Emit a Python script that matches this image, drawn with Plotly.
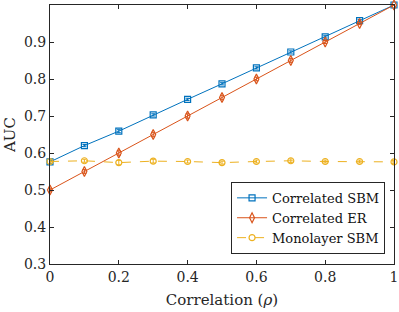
import plotly.graph_objects as go

rho = [0, 0.1, 0.2, 0.3, 0.4, 0.5, 0.6, 0.7, 0.8, 0.9, 1.0]
auc_sbm = [0.576, 0.620, 0.659, 0.703, 0.745, 0.787, 0.830, 0.873, 0.914, 0.958, 1.0]
err_sbm = [0.004, 0.003, 0.004, 0.003, 0.003, 0.003, 0.003, 0.003, 0.003, 0.003, 0.001]
auc_er = [0.500, 0.550, 0.600, 0.650, 0.700, 0.750, 0.800, 0.850, 0.900, 0.950, 1.0]
err_er = [0.005, 0.005, 0.006, 0.006, 0.006, 0.006, 0.005, 0.005, 0.004, 0.003, 0.001]
auc_mono = [0.577, 0.579, 0.574, 0.578, 0.577, 0.574, 0.577, 0.579, 0.577, 0.577, 0.576]
err_mono = [0.004, 0.004, 0.006, 0.005, 0.004, 0.004, 0.004, 0.005, 0.004, 0.004, 0.004]

names = ["Correlated SBM", "Correlated ER", "Monolayer SBM"]
colors = ["#0072BD", "#D95319", "#EDB120"]

FONT = "DejaVu Serif"

fig = go.Figure()
series = [(auc_sbm, err_sbm, "square-open", "solid", 6),
          (auc_er, err_er, "diamond-tall-open", "solid", 7),
          (auc_mono, err_mono, "circle-open", "dash", 6)]
for (y, e, sym, dash, sz), name, c in zip(series, names, colors):
    fig.add_trace(go.Scatter(
        x=rho, y=y, name=name, mode="lines+markers", cliponaxis=False,
        line=dict(color=c, width=1, dash=dash),
        marker=dict(symbol=sym, size=sz, color=c, line=dict(width=1.2, color=c)),
        error_y=dict(type="data", array=e, visible=True, color=c, thickness=1, width=2),
    ))

axis_common = dict(
    showgrid=False, zeroline=False, showline=True, linecolor="#262626", linewidth=1,
    mirror="ticks", ticks="inside", ticklen=4, tickcolor="#262626",
    tickfont=dict(family=FONT, size=14, color="#262626"),
    ticklabeloverflow="allow", automargin=False,
)
fig.update_xaxes(range=[0, 1], tickvals=[0, 0.2, 0.4, 0.6, 0.8, 1],
                 ticktext=["0", "0.2", "0.4", "0.6", "0.8", "1"],
                 title=dict(text="Correlation (<i>ρ</i>)", font=dict(family=FONT, size=15, color="#262626"), standoff=10),
                 **axis_common)
fig.update_yaxes(range=[0.3, 1.0], tickvals=[0.3, 0.4, 0.5, 0.6, 0.7, 0.8, 0.9],
                 ticktext=["0.3", "0.4", "0.5", "0.6", "0.7", "0.8", "0.9"],
                 title=dict(text="AUC", font=dict(family=FONT, size=15, color="#262626"), standoff=4),
                 **axis_common)

fig.update_layout(
    width=399, height=312,
    margin=dict(l=50, r=5, t=5, b=48),
    paper_bgcolor="white", plot_bgcolor="white",
    showlegend=True,
    legend=dict(x=0.974, y=0.039, xanchor="right", yanchor="bottom",
                bgcolor="white", bordercolor="#262626", borderwidth=1,
                font=dict(family=FONT, size=13, color="#111111"),
                tracegroupgap=0, itemwidth=30),
)

fig.write_html("out.html", config={"displayModeBar": False},
               post_script="document.body.style.margin='0';document.body.style.padding='0';document.body.style.overflow='hidden';")
